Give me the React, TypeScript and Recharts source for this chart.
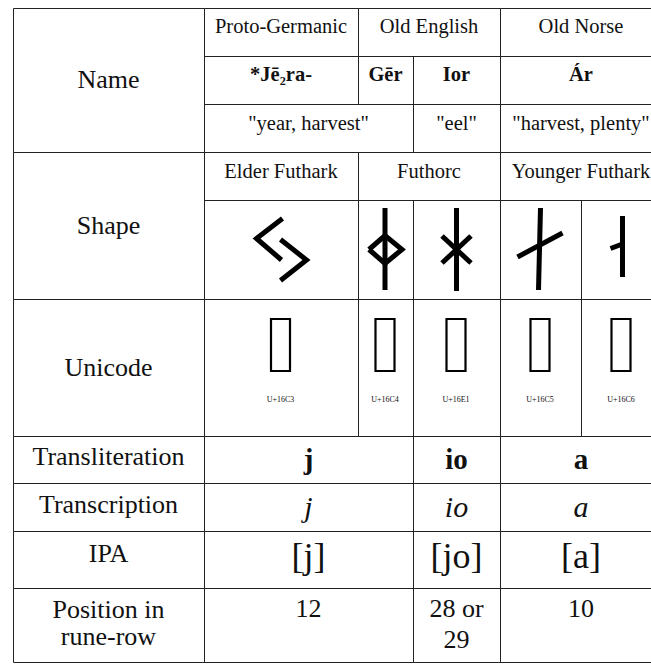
import React from "react";
import { Surface, Text, Rectangle, Curve } from "recharts";

/* Rune table for Jēra drawn with Recharts primitives (Surface/Text/Curve). */

const rowLabels = ["Name", "Shape", "Unicode", "Transliteration", "Transcription", "IPA", "Position in", "rune-row"];
const languages = ["Proto-Germanic", "Old English", "Old Norse"];
const runeNames = ["*Jē₂ra-", "Gēr", "Ior", "Ár"];
const meanings = ['"year, harvest"', '"eel"', '"harvest, plenty"'];
const alphabets = ["Elder Futhark", "Futhorc", "Younger Futhark"];
const runeChars = ["ᛃ", "ᛄ", "ᛡ", "ᛅ", "ᛆ"];
const codePoints = ["U+16C3", "U+16C4", "U+16E1", "U+16C5", "U+16C6"];
const transliterations = ["j", "io", "a"];
const transcriptions = ["j", "io", "a"];
const ipa = ["[j]", "[jo]", "[a]"];
const positions = [["12"], ["28 or", "29"], ["10"]];

// layout
const W = 651;
const H = 664;
const COLS = [13, 204, 358, 413, 500, 581, 662];
const ROWS = [8, 56, 104, 152, 200, 299, 436, 483, 531, 588, 662];
const LINE = "#222";
const SERIF = "'Liberation Serif', 'Times New Roman', serif";

const SPAN3 = [[1, 2], [2, 4], [4, 6]];
const SPAN4 = [[1, 2], [2, 3], [3, 4], [4, 6]];
const SPAN_MEAN = [[1, 3], [3, 4], [4, 6]];
const SPAN5 = [[1, 2], [2, 3], [3, 4], [4, 5], [5, 6]];
const SPAN_LOW = [[1, 3], [3, 4], [4, 6]];

const mid = (a: number, b: number) => (COLS[a] + COLS[b]) / 2;

// rune glyph strokes, relative to cell centre
const GLYPHS: number[][][][] = [
  [[[2, -31], [-24, -11], [1, 10.5]], [[0, -10], [26, 10.5], [0, 31]]],
  [[[0, -41.5], [0, 40.5]], [[-16, 0], [0, -14], [17, 0], [0, 14], [-16, 0]]],
  [[[0.5, -41.5], [0.5, 41.5]], [[-14, -13.5], [15, 13.5]], [[15, -13.5], [-14, 13.5]]],
  [[[0.5, -41.5], [-1.5, 40.5]], [[-22.5, 7.5], [22.5, -16.5]]],
  [[[1.5, -33.5], [1.5, 27.5]], [[-10.5, -1], [1.5, -5.5]]],
];

function Cell({ r0, r1, c0, c1 }: { r0: number; r1: number; c0: number; c1: number }) {
  return (
    <Rectangle
      x={COLS[c0] + 0.5}
      y={ROWS[r0] + 0.5}
      width={COLS[c1] - COLS[c0]}
      height={ROWS[r1] - ROWS[r0]}
      fill="none"
      stroke={LINE}
      strokeWidth={1}
    />
  );
}

function T(props: any) {
  return <Text textAnchor="middle" fontFamily={SERIF} fill="#111" {...props} />;
}

export default function App() {
  const glyphY = (ROWS[4] + ROWS[5]) / 2;
  return (
    <div style={{ position: "absolute", left: 0, top: 0, width: W, height: H, background: "#fff" }}>
      <Surface width={W} height={H} viewBox={{ x: 0, y: 0, width: W, height: H }}>
        <rect x={0} y={0} width={W} height={H} fill="#fff" />

        {/* left labels */}
        <Cell r0={0} r1={3} c0={0} c1={1} />
        <Cell r0={3} r1={5} c0={0} c1={1} />
        <Cell r0={5} r1={6} c0={0} c1={1} />
        {[6, 7, 8, 9].map((r) => (
          <Cell key={r} r0={r} r1={r + 1} c0={0} c1={1} />
        ))}
        <T x={mid(0, 1)} y={88} fontSize={26}>{rowLabels[0]}</T>
        <T x={mid(0, 1)} y={234} fontSize={26}>{rowLabels[1]}</T>
        <T x={mid(0, 1)} y={376} fontSize={26}>{rowLabels[2]}</T>
        <T x={mid(0, 1)} y={465} fontSize={26}>{rowLabels[3]}</T>
        <T x={mid(0, 1)} y={513} fontSize={26}>{rowLabels[4]}</T>
        <T x={mid(0, 1)} y={562} fontSize={26}>{rowLabels[5]}</T>
        <T x={mid(0, 1)} y={618} fontSize={26}>{rowLabels[6]}</T>
        <T x={mid(0, 1)} y={645} fontSize={26}>{rowLabels[7]}</T>

        {/* languages */}
        {SPAN3.map(([a, b], i) => (
          <g key={"l" + i}>
            <Cell r0={0} r1={1} c0={a} c1={b} />
            <T x={mid(a, b)} y={33} fontSize={20.5}>{languages[i]}</T>
          </g>
        ))}
        {SPAN4.map(([a, b], i) => (
          <g key={"n" + i}>
            <Cell r0={1} r1={2} c0={a} c1={b} />
            <T x={mid(a, b)} y={81} fontSize={20.5} fontWeight="bold">{runeNames[i]}</T>
          </g>
        ))}
        {SPAN_MEAN.map(([a, b], i) => (
          <g key={"m" + i}>
            <Cell r0={2} r1={3} c0={a} c1={b} />
            <T x={mid(a, b)} y={129.5} fontSize={20.5}>{meanings[i]}</T>
          </g>
        ))}
        {SPAN3.map(([a, b], i) => (
          <g key={"a" + i}>
            <Cell r0={3} r1={4} c0={a} c1={b} />
            <T x={mid(a, b)} y={178} fontSize={20.5}>{alphabets[i]}</T>
          </g>
        ))}

        {/* shapes + unicode (the reference shows missing-glyph boxes) */}
        {SPAN5.map(([a, b], i) => {
          const cx = mid(a, b) - 0.5;
          return (
            <g key={"g" + i}>
              <Cell r0={4} r1={5} c0={a} c1={b} />
              <Cell r0={5} r1={6} c0={a} c1={b} />
              {GLYPHS[i].map((stroke, k) => (
                <Curve
                  key={k}
                  type="linear"
                  points={stroke.map(([dx, dy]) => ({ x: cx + dx, y: glyphY + dy }))}
                  stroke="#000"
                  strokeWidth={5}
                  fill="none"
                  strokeLinejoin="miter"
                />
              ))}
              <g>
                <title>{runeChars[i]}</title>
                <Rectangle x={cx - 9.5} y={319} width={19} height={52} fill="none" stroke="#000" strokeWidth={2.2} />
              </g>
              <T x={cx} y={402} fontSize={8}>{codePoints[i]}</T>
            </g>
          );
        })}

        {/* lower rows */}
        {SPAN_LOW.map(([a, b], i) => {
          const cx = mid(a, b);
          return (
            <g key={"w" + i}>
              {[6, 7, 8, 9].map((r) => (
                <Cell key={r} r0={r} r1={r + 1} c0={a} c1={b} />
              ))}
              <T x={cx} y={469} fontSize={29} fontWeight="bold">{transliterations[i]}</T>
              <T x={cx} y={517} fontSize={30} fontStyle="italic">{transcriptions[i]}</T>
              <T x={cx} y={568} fontSize={36}>{ipa[i]}</T>
              {positions[i].map((s, k) => (
                <T key={k} x={cx} y={617 + k * 31} fontSize={26}>{s}</T>
              ))}
            </g>
          );
        })}
      </Surface>
    </div>
  );
}
